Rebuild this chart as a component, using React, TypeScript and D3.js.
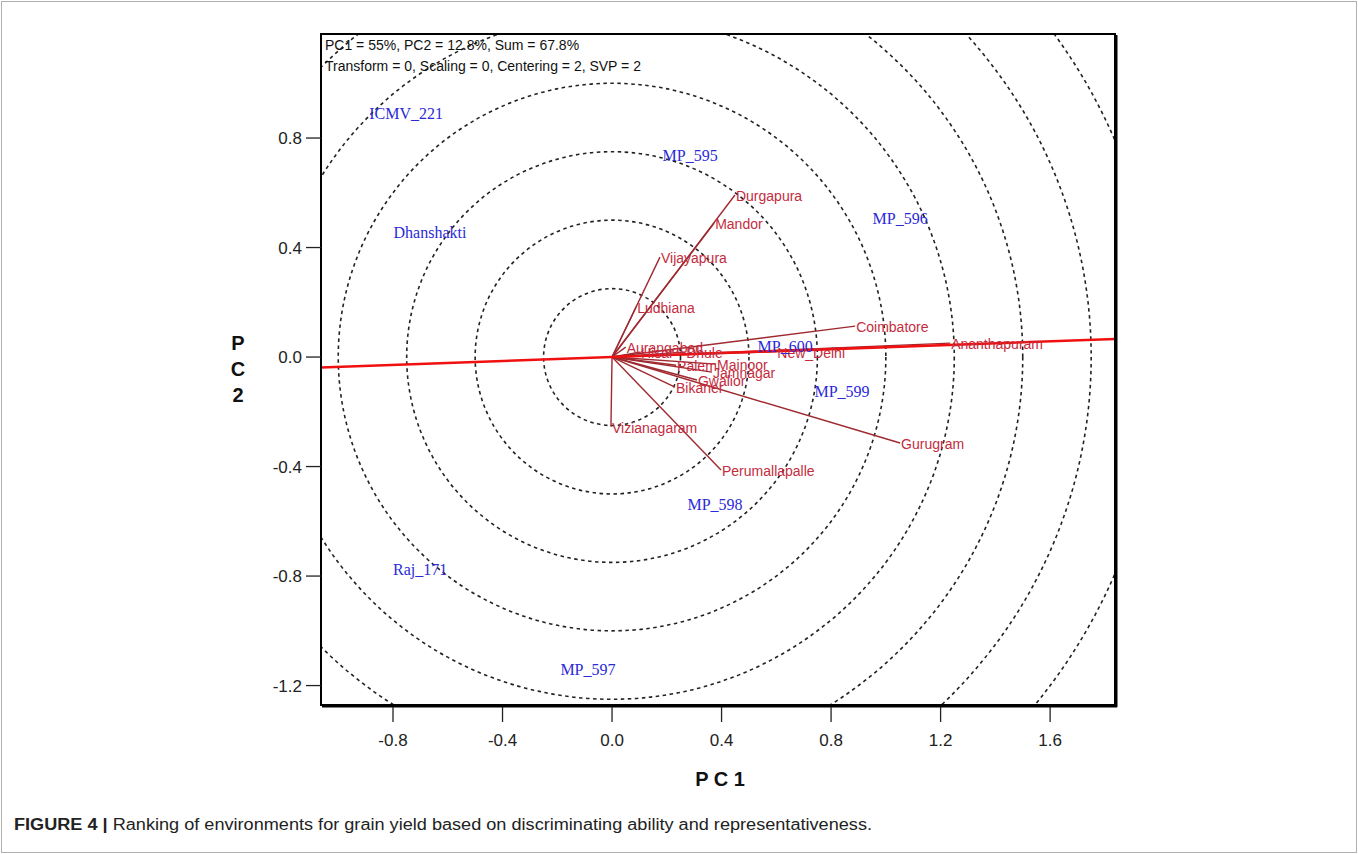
import React from "react";
import * as d3 from "d3";

// environment vectors (PC1, PC2)
const envNames = ["Durgapura", "Mandor", "Vijayapura", "Ludhiana", "Aurangabad", "Hisar", "Dhule", "Coimbatore", "Ananthapuram", "New_Delhi", "Palem", "Mainoor", "Jamnagar", "Gwalior", "Bikaner", "Vizianagaram", "Perumallapalle", "Gurugram"];
const envPC1 = [0.449, 0.373, 0.175, 0.088, 0.05, 0.102, 0.267, 0.888, 1.235, 0.6, 0.234, 0.38, 0.365, 0.31, 0.23, -0.004, 0.398, 1.052];
const envPC2 = [0.592, 0.489, 0.365, 0.183, 0.036, 0.018, 0.018, 0.113, 0.051, 0.02, -0.03, -0.026, -0.055, -0.084, -0.11, -0.255, -0.413, -0.314];

// genotype scores
const genNames = ["ICMV_221", "MP_595", "Dhanshakti", "MP_596", "MP_600", "MP_599", "MP_598", "Raj_171", "MP_597"];
const genPC1 = [-0.752, 0.285, -0.665, 1.052, 0.632, 0.84, 0.376, -0.701, -0.088];
const genPC2 = [0.888, 0.734, 0.453, 0.504, 0.037, -0.128, -0.541, -0.778, -1.143];

// average environment axis direction
const aeaDir = [1, 0.036];
const circleStep = 0.25;
const circleCount = 9;

const xTicks = [-0.8, -0.4, 0.0, 0.4, 0.8, 1.2, 1.6];
const yTicks = [0.8, 0.4, 0.0, -0.4, -0.8, -1.2];

const headerLines = [
  "PC1 = 55%, PC2 = 12.8%, Sum = 67.8%",
  "Transform = 0, Scaling = 0, Centering = 2, SVP = 2",
];

const W = 1358, H = 854;
const left = 321, right = 1115, top = 34, bottom = 705;
const sans = "'Liberation Sans', Arial, sans-serif";
const serif = "'Liberation Serif', 'Times New Roman', serif";

export default function App() {
  const x = d3.scaleLinear([-1.063, 1.837], [left, right]);
  const y = d3.scaleLinear([-1.271, 1.18], [bottom, top]);
  const fmt = (v: number) => d3.format(".1f")(v).replace("−", "-");
  const unit = x(1) - x(0);

  const aeaLine = d3.line<number>()
    .x(t => x(t * aeaDir[0]))
    .y(t => y(t * aeaDir[1]));

  return (
    <svg width={W} height={H} style={{ position: "absolute", left: 0, top: 0, background: "#fff" }}>
      <defs>
        <clipPath id="plot">
          <rect x={left} y={top} width={right - left} height={bottom - top} />
        </clipPath>
      </defs>
      <rect x={1.5} y={1.5} width={W - 3} height={H - 3} fill="none" stroke="#b0b0b0" strokeWidth={1} />

      <g clipPath="url(#plot)">
        {d3.range(1, circleCount + 1).map(k => (
          <circle key={k} cx={x(0)} cy={y(0)} r={k * circleStep * unit}
            fill="none" stroke="#222" strokeWidth={1.6} strokeDasharray="3.5,3.5" />
        ))}
      </g>

      {/* environment vectors */}
      <g>
        {envNames.map((n, i) => (
          <line key={n} x1={x(0)} y1={y(0)} x2={x(envPC1[i])} y2={y(envPC2[i])}
            stroke="#9e2a30" strokeWidth={1.4} />
        ))}
      </g>

      <path d={aeaLine([-2, 3]) || ""} clipPath="url(#plot)" fill="none" stroke="#f01010" strokeWidth={2.6} />

      <g fontFamily={sans} fontSize={14} fill="#c42c3e">
        {envNames.map((n, i) => (
          <text key={n} x={x(envPC1[i]) + 1} y={y(envPC2[i]) + 6}>{n}</text>
        ))}
      </g>

      <g fontFamily={serif} fontSize={16} fill="#2a2ad8" textAnchor="middle">
        {genNames.map((n, i) => (
          <text key={n} x={x(genPC1[i])} y={y(genPC2[i]) + 5}>{n}</text>
        ))}
      </g>

      <g fontFamily={sans} fontSize={14} fill="#111">
        {headerLines.map((t, i) => (
          <text key={i} x={left + 4} y={top + 16 + i * 21}>{t}</text>
        ))}
      </g>

      {/* frame */}
      <rect x={left} y={top} width={right - left} height={bottom - top} fill="none" stroke="#000" strokeWidth={2} />
      <line x1={right + 1} y1={top + 1} x2={right + 1} y2={bottom + 2} stroke="#000" strokeWidth={3} />
      <line x1={left + 1} y1={bottom + 1} x2={right + 2} y2={bottom + 1} stroke="#000" strokeWidth={3} />

      {/* x axis */}
      <g fontFamily={sans} fontSize={17} fill="#222" textAnchor="middle">
        {xTicks.map(t => (
          <g key={t}>
            <line x1={x(t)} x2={x(t)} y1={bottom + 2} y2={bottom + 17} stroke="#222" strokeWidth={1.3} />
            <text x={x(t)} y={bottom + 41}>{fmt(t)}</text>
          </g>
        ))}
      </g>
      {/* y axis */}
      <g fontFamily={sans} fontSize={17} fill="#222" textAnchor="end">
        {yTicks.map(t => (
          <g key={t}>
            <line x1={left - 15} x2={left} y1={y(t)} y2={y(t)} stroke="#222" strokeWidth={1.3} />
            <text x={left - 19} y={y(t) + 6}>{fmt(t)}</text>
          </g>
        ))}
      </g>

      <text x={720} y={786} textAnchor="middle" fontFamily={sans} fontWeight="bold" fontSize={20} fill="#111">P C 1</text>
      <g fontFamily={sans} fontWeight="bold" fontSize={20} fill="#111" textAnchor="middle">
        {["P", "C", "2"].map((c, i) => (
          <text key={i} x={238} y={350 + i * 26}>{c}</text>
        ))}
      </g>

      <text x={14} y={830} fontFamily={sans} fontSize={16} fill="#222" textLength={858} lengthAdjust="spacingAndGlyphs">
        <tspan fontWeight="bold">FIGURE 4 | </tspan>
        <tspan>Ranking of environments for grain yield based on discriminating ability and representativeness.</tspan>
      </text>
    </svg>
  );
}
